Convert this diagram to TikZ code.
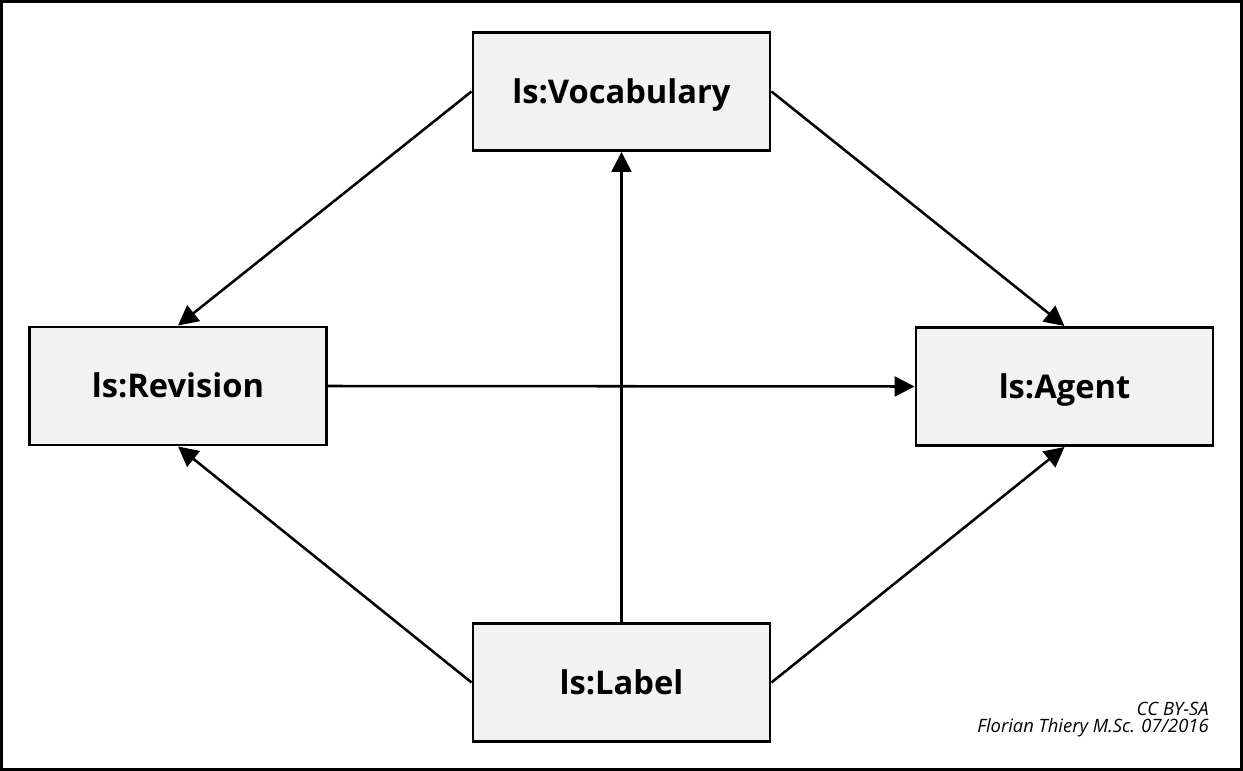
\documentclass[tikz,border=0pt]{standalone}
\usepackage{fontspec}
\setmainfont{Open Sans}
\usetikzlibrary{arrows.meta}
\definecolor{boxfill}{HTML}{F2F2F2}
\tikzset{
  classbox/.style={draw=black, fill=boxfill, line width=2.2pt, minimum width=297*0.75pt, minimum height=118*0.75pt, inner sep=0pt, text height=17.6pt, text depth=0pt, font=\fontsize{24.5}{30}\selectfont\bfseries},
  link/.style={line width=1.9pt, -{Triangle[length=15pt, width=15pt]}},
}
\begin{document}
\begin{tikzpicture}[x=0.75pt, y=-0.75pt]
\useasboundingbox (0,0) rectangle (1243,771);
\draw[line width=2.25pt] (1.5,1.5) rectangle (1241.5,769.5);
\node[classbox] (voc) at (621.5,91.5) {ls:Vocabulary};
\node[classbox] (rev) at (178,386) {ls:Revision};
\node[classbox] (agt) at (1064.5,386.5) {ls:Agent};
\node[classbox] (lab) at (621.5,682.5) {ls:Label};
\draw[link] (voc.west) -- (rev.north);
\draw[link] (voc.east) -- (agt.north);
\draw[link] (lab.north) -- (voc.south);
\draw[link] (rev.east) -- (agt.west);
\draw[link] (lab.west) -- (rev.south);
\draw[link] (lab.east) -- (agt.south);
\node[anchor=north east, align=right, inner sep=0pt, font=\fontsize{13.8}{12.75}\selectfont\itshape] (credit) at (1209,702) {CC BY-SA\\Florian Thiery M.Sc. 07/2016};
\end{tikzpicture}
\end{document}
